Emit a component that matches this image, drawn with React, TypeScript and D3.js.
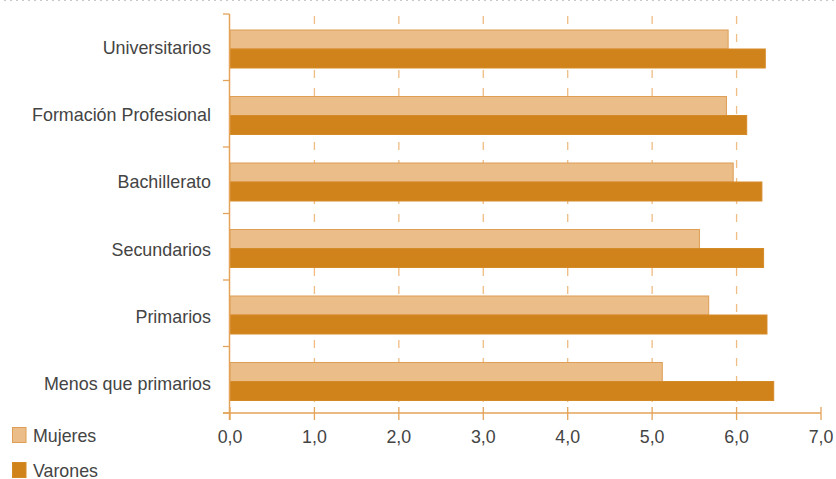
import React from "react";
import * as d3 from "d3";

const categories = [
  "Universitarios",
  "Formación Profesional",
  "Bachillerato",
  "Secundarios",
  "Primarios",
  "Menos que primarios",
];
const seriesNames = ["Mujeres", "Varones"];
const mujeres = [5.9, 5.88, 5.96, 5.56, 5.67, 5.12];
const varones = [6.34, 6.12, 6.3, 6.32, 6.36, 6.44];
const xTicks = [0, 1, 2, 3, 4, 5, 6, 7];

const W = 836;
const H = 479;
const FONT = "'Liberation Sans', Arial, Helvetica, sans-serif";
const TEXT = "#444444";
const AXIS = "#E3A359";
const GRID = "#EFBC84";
const C_MUJ = "#EBBD88";
const C_MUJ_S = "#DE9E55";
const C_VAR = "#D0831A";
const C_VAR_S = "#D58A28";

export default function App() {
  const x = d3.scaleLinear().domain([0, 7]).range([230, 821]);
  const y = d3.scaleBand<string>().domain(categories).range([14, 413]).padding(0);
  const sub = d3.scaleBand<string>().domain(seriesNames).range([16, 54]).padding(0);
  const yLabel = d3.scalePoint<string>().domain(categories).range([47.5, 384]);
  const values = [mujeres, varones];
  const fills = [C_MUJ, C_VAR];
  const strokes = [C_MUJ_S, C_VAR_S];
  const boundaries = categories.map((c) => y(c) as number).concat([413]);

  return (
    <svg
      width={W}
      height={H}
      style={{ position: "absolute", left: 0, top: 0, background: "#fff" }}
      fontFamily={FONT}
    >
      <line x1={4} x2={W} y1={0.5} y2={0.5} stroke="#c8c8c8" strokeDasharray="2,4" />
      {/* gridlines */}
      {xTicks
        .filter((t) => t > 0 && t < 7)
        .map((t) => (
          <line
            key={"g" + t}
            x1={x(t)}
            x2={x(t)}
            y1={16}
            y2={413}
            stroke={GRID}
            strokeWidth={1.3}
            strokeDasharray="8,10"
          />
        ))}
      {/* bars */}
      {categories.map((c, i) =>
        seriesNames.map((s, j) => (
          <rect
            key={c + s}
            x={x(0)}
            y={(y(c) as number) + (sub(s) as number)}
            width={x(values[j][i]) - x(0)}
            height={sub.bandwidth()}
            fill={fills[j]}
            stroke={strokes[j]}
            strokeWidth={1}
          />
        ))
      )}
      {/* y axis */}
      <line x1={229.5} x2={229.5} y1={14} y2={420} stroke={AXIS} strokeWidth={1.5} />
      {boundaries.map((b, i) => (
        <line key={"yt" + i} x1={223} x2={229.5} y1={b} y2={b} stroke={AXIS} strokeWidth={1.3} />
      ))}
      {/* x axis */}
      <line x1={223} x2={x(7)} y1={413} y2={413} stroke={AXIS} strokeWidth={1.5} />
      {xTicks.map((t) => (
        <line key={"xt" + t} x1={x(t)} x2={x(t)} y1={407} y2={420} stroke={AXIS} strokeWidth={1.3} />
      ))}
      {xTicks.map((t) => (
        <text
          key={"xl" + t}
          x={x(t)}
          y={443}
          textAnchor="middle"
          fontSize={17.8}
          fill={TEXT}
        >
          {d3.format(".1f")(t).replace(".", ",")}
        </text>
      ))}
      {/* category labels */}
      {categories.map((c) => (
        <text
          key={"cl" + c}
          x={211}
          y={yLabel(c) as number}
          dy="0.35em"
          textAnchor="end"
          fontSize={17.9}
          fill={TEXT}
        >
          {c}
        </text>
      ))}
      {/* legend */}
      {seriesNames.map((s, j) => (
        <g key={"lg" + s} transform={`translate(12, ${427 + j * 35})`}>
          <rect x={0.5} y={0.5} width={13.5} height={15} fill={fills[j]} stroke={strokes[j]} />
          <text x={21} y={14.5} fontSize={17.8} fill={TEXT}>
            {s}
          </text>
        </g>
      ))}
    </svg>
  );
}
